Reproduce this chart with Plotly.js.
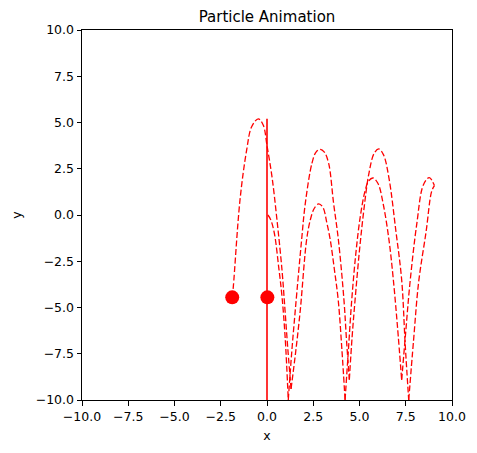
<!DOCTYPE html>
<html>
<head>
<meta charset="utf-8">
<script src="https://cdn.plot.ly/plotly-3.0.1.min.js"></script>
<style>html,body{margin:0;padding:0;background:#fff;}#chart{width:477px;height:453px;}</style>
</head>
<body>
<div id="chart"></div>
<script>
// Trail of particle 1 (ends at the left dot); null separates bounce arcs
var trail1X = [-1.88, -1.82, -1.46, -1.1, -0.83, -0.47, -0.2, 0.0, 0.27, 0.54, 0.81, 0.97, 1.13, 1.3, null,
               1.3, 1.55, 1.8, 2.14, 2.34, 2.55, 2.79, 3.02, 3.24, 3.42, 3.65, 3.85, 4.05, 4.22, null,
               4.22, 4.4, 4.58, 4.8, 5.04, 5.3, 5.5, 5.73, 6.0, 6.3, 6.6, 6.83, 7.05, 7.28, null,
               7.28, 7.5, 7.73, 8.1, 8.45, 8.77, 9.05];
var trail1Y = [-4.45, -3.87, 0.81, 3.51, 4.77, 5.2, 4.85, 3.75, 2.06, -0.27, -2.97, -5.1, -7.3, -9.4, null,
               -9.4, -7.4, -5.13, -1.35, -0.27, 0.35, 0.6, 0.42, -0.45, -1.35, -3.0, -4.6, -7.3, -10.0, null,
               -10.0, -7.3, -4.6, -2.1, -0.1, 1.3, 1.85, 2.0, 1.7, 0.5, -1.4, -3.51, -6.0, -8.92, null,
               -8.92, -6.3, -3.65, -0.45, 1.62, 2.02, 1.59];
// Trail of particle 2
var trail2X = [0.05, 0.2, 0.4, 0.63, 0.81, 0.98, 1.15, null,
               1.15, 1.33, 1.53, 1.87, 2.07, 2.43, 2.65, 2.88, 3.1, 3.33, 3.6, 3.86, 4.16, 4.3, 4.45, null,
               4.45, 4.6, 4.76, 5.0, 5.25, 5.5, 5.8, 6.05, 6.3, 6.6, 6.96, 7.28, 7.47, 7.66, null,
               7.66, 7.92, 8.2, 8.6, 8.9, 9.05];
var trail2Y = [0.0, -0.25, -1.0, -2.8, -4.4, -6.6, -10.0, null,
               -10.0, -7.5, -5.13, -1.35, 0.63, 2.8, 3.4, 3.55, 3.4, 2.8, 0.63, -1.35, -4.6, -6.8, -8.9, null,
               -8.9, -6.6, -4.6, -1.9, 0.4, 2.2, 3.35, 3.57, 3.25, 1.95, -0.81, -3.51, -7.0, -10.0, null,
               -10.0, -6.8, -3.6, -0.9, 1.28, 1.59];
// Vertical solid line
var lineX = [0, 0];
var lineY = [5.2, -10];
// Particle positions
var dotX = [-1.88, 0.02];
var dotY = [-4.45, -4.45];
// Ticks
var tickVals = [-10, -7.5, -5, -2.5, 0, 2.5, 5, 7.5, 10];
var tickText = ['\u221210.0', '\u22127.5', '\u22125.0', '\u22122.5', '0.0', '2.5', '5.0', '7.5', '10.0'];

var red = '#ff0000';
var dashLine = {color: red, width: 1.3, dash: '6px,2.5px', shape: 'spline', smoothing: 1};
var traces = [
  {x: trail1X, y: trail1Y, mode: 'lines', line: dashLine, connectgaps: false, hoverinfo: 'skip'},
  {x: trail2X, y: trail2Y, mode: 'lines', line: dashLine, connectgaps: false, hoverinfo: 'skip'},
  {x: lineX, y: lineY, mode: 'lines', line: {color: red, width: 1.6}, hoverinfo: 'skip'},
  {x: dotX, y: dotY, mode: 'markers', marker: {color: red, size: 14}, hoverinfo: 'skip'}
];
var font = {family: 'DejaVu Sans, sans-serif', size: 12.5, color: '#000'};
var axisCommon = {
  range: [-10, 10], tickmode: 'array', tickvals: tickVals, ticktext: tickText,
  ticks: 'outside', ticklen: 4.5, tickwidth: 1, tickcolor: '#000',
  showline: true, linecolor: '#000', linewidth: 1, mirror: true,
  showgrid: false, zeroline: false, tickfont: font, fixedrange: true
};
var layout = {
  width: 477, height: 453,
  margin: {l: 82, r: 25, t: 30, b: 53},
  paper_bgcolor: '#fff', plot_bgcolor: '#fff',
  showlegend: false, font: font,
  title: {text: 'Particle Animation', font: {family: 'DejaVu Sans, sans-serif', size: 15, color: '#000'},
          x: 0.5, xref: 'paper', y: 1 - 17 / 453, yref: 'container', yanchor: 'middle'},
  xaxis: Object.assign({}, axisCommon, {title: {text: 'x', font: font, standoff: 8}}),
  yaxis: Object.assign({}, axisCommon, {title: {text: 'y', font: font, standoff: 11}})
};
Plotly.newPlot('chart', traces, layout, {staticPlot: true, displayModeBar: false});
</script>
</body>
</html>
